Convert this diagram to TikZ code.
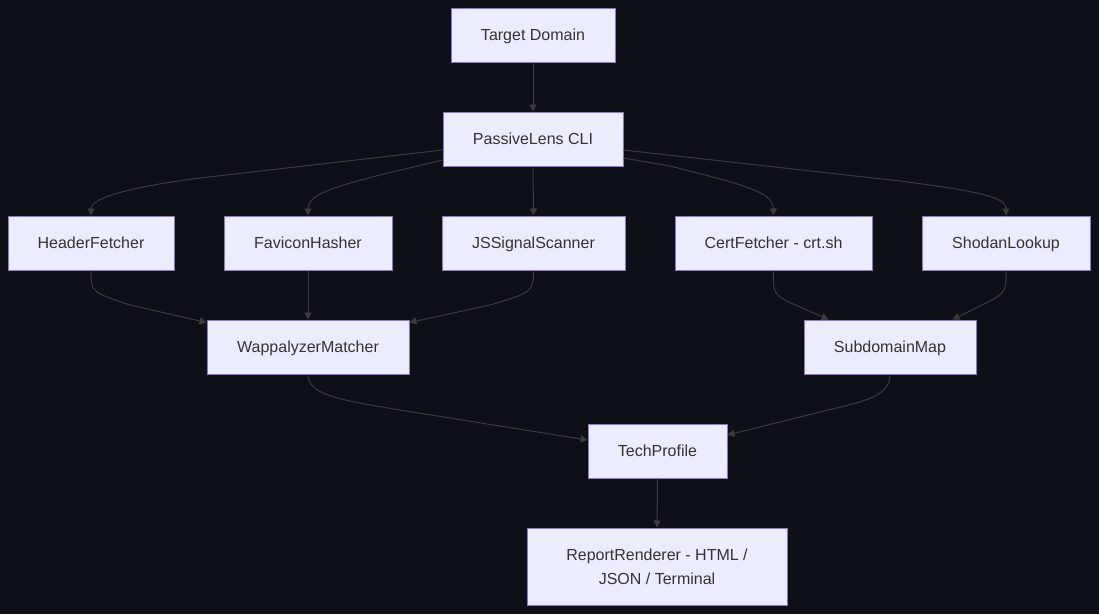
\documentclass[tikz,border=0pt]{standalone}
\usepackage{fontspec}
\setmainfont{Liberation Sans}
\usetikzlibrary{arrows.meta,calc}
\definecolor{bg}{RGB}{13,16,23}
\definecolor{nodefill}{RGB}{236,236,255}
\definecolor{nodeborder}{RGB}{147,112,219}
\definecolor{txt}{RGB}{51,51,51}
\definecolor{edgecol}{RGB}{60,60,60}
\begin{document}
\begin{tikzpicture}[x=1pt,y=-1pt,
  box/.style={draw=nodeborder, fill=nodefill, line width=1pt, text=txt, inner sep=0pt, align=center, font=\fontsize{16}{24}\selectfont},
  oneline/.style={box, text height=11.6pt, text depth=0pt},
  conn/.style={draw=edgecol, line width=1pt, -{Triangle[length=7pt,width=7pt]}}]
\fill[bg] (0,0) rectangle (1099,614);
\useasboundingbox (0,0) rectangle (1099,614);
\node[oneline, minimum width=164pt, minimum height=54pt] (td) at (533,35) {Target Domain};
\node[oneline, minimum width=180pt, minimum height=54pt] (pl) at (533,139) {PassiveLens CLI};
\node[oneline, minimum width=166pt, minimum height=54pt] (hf) at (91,243) {HeaderFetcher};
\node[oneline, minimum width=168pt, minimum height=54pt] (fh) at (308,243) {FaviconHasher};
\node[oneline, minimum width=183pt, minimum height=54pt] (js) at (533.5,243) {JSSignalScanner};
\node[oneline, minimum width=197pt, minimum height=54pt] (cf) at (773.5,243) {CertFetcher - crt.sh};
\node[oneline, minimum width=168pt, minimum height=54pt] (sl) at (1006,243) {ShodanLookup};
\node[oneline, minimum width=202pt, minimum height=54pt] (wm) at (308,347) {WappalyzerMatcher};
\node[oneline, minimum width=172pt, minimum height=54pt] (sm) at (890,347) {SubdomainMap};
\node[oneline, minimum width=139pt, minimum height=54pt] (tp) at (657.5,451) {TechProfile};
\node[box, minimum width=260pt, minimum height=77pt] (rr) at (657,566.5) {ReportRenderer - HTML /\\JSON / Terminal};

\draw[conn] (td.south) -- (pl.north);
\draw[conn] ($(pl.west)+(0,11)$) -- (200,178) .. controls (130,187) and (91,198) .. (hf.north);
\draw[conn] ($(pl.west)+(0,21)$) -- (380,175) .. controls (330,188) and (308,195) .. (fh.north);
\draw[conn] (pl.south) -- (js.north);
\draw[conn] ($(pl.east)+(0,19)$) -- (670,166) .. controls (745,185) and (773,192) .. (cf.north);
\draw[conn] ($(pl.east)+(0,11)$) -- (900,181) .. controls (985,192) and (1006,198) .. (sl.north);
\draw[conn] (hf.south) .. controls (91,292) .. (130,305) -- ($(wm.north west)+(0,3)$);
\draw[conn] (fh.south) -- (wm.north);
\draw[conn] (js.south) .. controls (533,292) .. (490,305) -- ($(wm.north east)+(0,3)$);
\draw[conn] (cf.south) .. controls (773,295) .. (800,307) -- ($(sm.north west)+(25,0)$);
\draw[conn] (sl.south) .. controls (1006,293) .. (980,306) -- ($(sm.north east)+(-24,0)$);
\draw[conn] (wm.south) .. controls (308,395) and (340,400) .. (400,410) -- ($(tp.west)+(0,-11)$);
\draw[conn] (sm.south) .. controls (890,398) and (860,402) .. (820,412) -- ($(tp.east)+(0,-16)$);
\draw[conn] (tp.south) -- (rr.north);
\end{tikzpicture}
\end{document}
